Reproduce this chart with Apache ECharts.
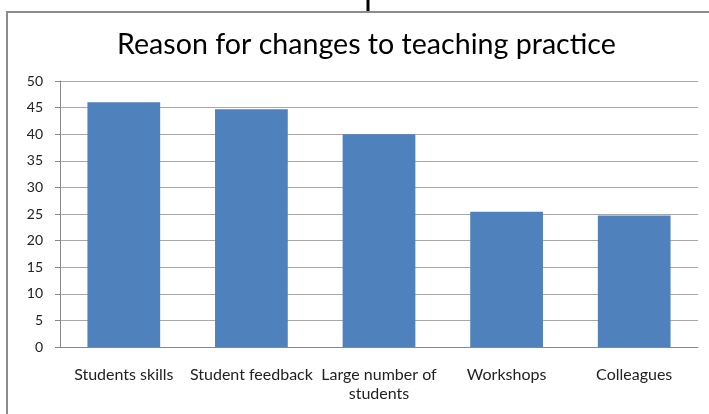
<!DOCTYPE html>
<html lang="en">
<head>
    <meta charset="UTF-8">
    <title>Reason for changes to teaching practice</title>
    <script src="https://cdn.jsdelivr.net/npm/echarts@6/dist/echarts.min.js"></script>
    <style>
        html, body { margin: 0; padding: 0; background: #fff; }
        #chart { width: 709px; height: 414px; }
    </style>
</head>
<body>
<div id="chart"></div>
<script>
    // data
    var categories = ['Students skills', 'Student feedback', 'Large number of\nstudents', 'Workshops', 'Colleagues'];
    var values = [46, 44.7, 40, 25.4, 24.7];
    var yTicks = [0, 5, 10, 15, 20, 25, 30, 35, 40, 45, 50];

    var chart = echarts.init(document.getElementById('chart'));
    chart.setOption({
        animation: false,
        textStyle: { fontFamily: 'Lato' },
        title: {
            text: 'Reason for changes to teaching practice',
            left: 112,
            top: 25,
            textStyle: { fontFamily: 'Lato', fontSize: 28.6, fontWeight: 'normal', color: '#000' }
        },
        // frame round the chart and the stray line at the top
        graphic: [
            {
                type: 'rect',
                shape: { x: 7, y: 12, width: 720, height: 420 },
                style: { fill: null, stroke: '#8c8c8c', lineWidth: 2 }
            },
            {
                type: 'line',
                shape: { x1: 368, y1: 0, x2: 368, y2: 11 },
                style: { stroke: '#000', lineWidth: 3 }
            }
        ],
        grid: { left: 60, right: 11, top: 81, bottom: 67 },
        xAxis: {
            type: 'category',
            data: categories,
            axisLine: { lineStyle: { color: '#888' } },
            axisTick: { show: false },
            axisLabel: { color: '#222', fontSize: 16, margin: 18, lineHeight: 19, interval: 0 }
        },
        yAxis: {
            type: 'value',
            min: yTicks[0],
            max: yTicks[yTicks.length - 1],
            interval: yTicks[1] - yTicks[0],
            axisLine: { show: true, lineStyle: { color: '#888' } },
            axisTick: { show: true, length: 5, lineStyle: { color: '#888' } },
            axisLabel: { color: '#222', fontSize: 14, margin: 17 },
            splitLine: { lineStyle: { color: '#a8a8a8' } }
        },
        series: [{
            type: 'bar',
            data: values,
            barCategoryGap: '43%',
            itemStyle: { color: '#4f81bd' }
        }]
    });
</script>
</body>
</html>
